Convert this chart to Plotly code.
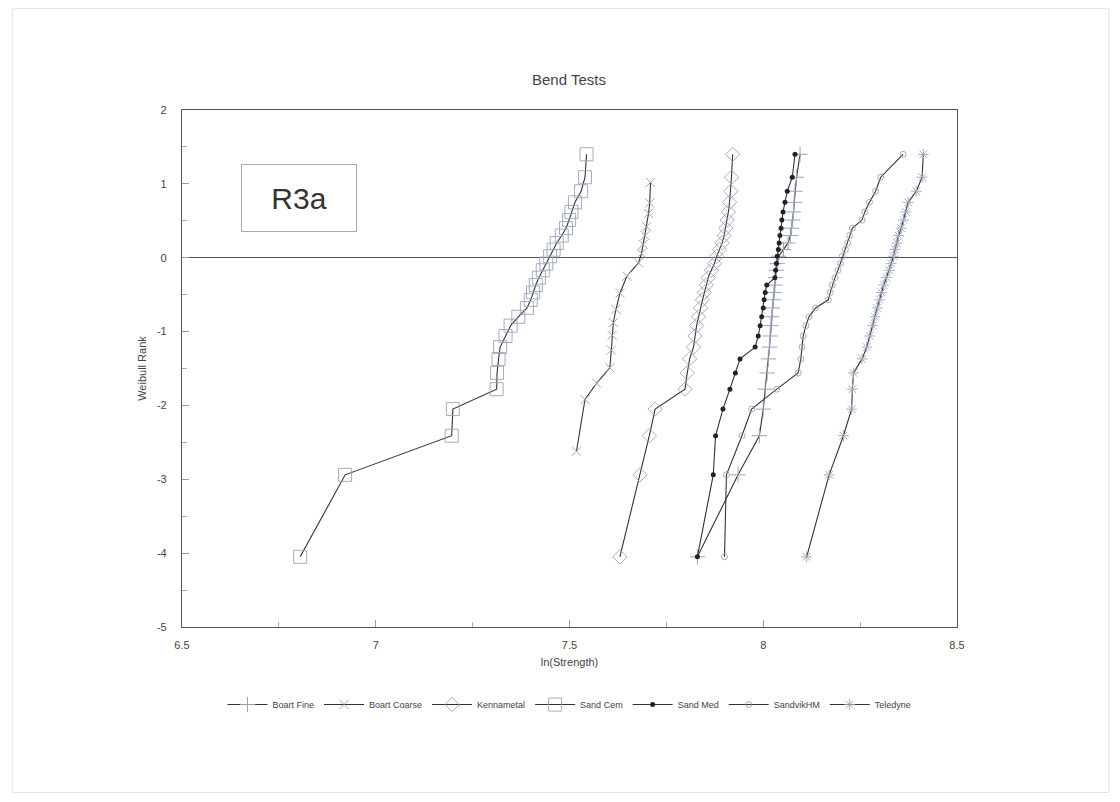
import plotly.graph_objects as go

# ---- data ----
# Weibull rank positions shared by the 29-specimen series
weibull_rank = [-4.05, -2.94, -2.41, -2.05, -1.78, -1.56, -1.37, -1.21, -1.06, -0.92,
                -0.80, -0.68, -0.57, -0.47, -0.37, -0.27, -0.17, -0.08, 0.02, 0.11,
                0.20, 0.30, 0.40, 0.51, 0.62, 0.75, 0.90, 1.09, 1.40]

boart_fine_x = [7.830, 7.935, 7.990, 8.000, 8.005, 8.010, 8.013, 8.016, 8.018, 8.020,
                8.022, 8.024, 8.026, 8.028, 8.030, 8.032, 8.034, 8.036, 8.040, 8.052,
                8.064, 8.070, 8.073, 8.076, 8.078, 8.080, 8.082, 8.086, 8.095]

boart_coarse_x = [7.518, 7.540, 7.570, 7.604, 7.608, 7.610, 7.613, 7.620, 7.630, 7.648,
                  7.678, 7.686, 7.690, 7.695, 7.699, 7.704, 7.707, 7.709]
boart_coarse_y = [-2.62, -1.92, -1.70, -1.49, -1.25, -1.05, -0.88, -0.70, -0.48, -0.25,
                  -0.07, 0.06, 0.18, 0.30, 0.42, 0.60, 0.74, 1.02]

kennametal_x = [7.630, 7.682, 7.706, 7.721, 7.798, 7.804, 7.810, 7.820, 7.824, 7.828,
                7.833, 7.838, 7.843, 7.848, 7.853, 7.858, 7.866, 7.874, 7.880, 7.887,
                7.894, 7.899, 7.903, 7.907, 7.910, 7.913, 7.916, 7.918, 7.921]

sand_cem_x = [6.805, 6.921, 7.196, 7.199, 7.312, 7.313, 7.317, 7.321, 7.335, 7.348,
              7.368, 7.390, 7.400, 7.406, 7.413, 7.421, 7.431, 7.440, 7.450, 7.459,
              7.467, 7.480, 7.491, 7.499, 7.505, 7.514, 7.530, 7.540, 7.544]

sand_med_x = [7.830, 7.871, 7.877, 7.896, 7.914, 7.928, 7.940, 7.979, 7.987, 7.992,
              7.996, 8.000, 8.002, 8.005, 8.009, 8.030, 8.032, 8.034, 8.036, 8.039,
              8.041, 8.043, 8.046, 8.048, 8.051, 8.056, 8.062, 8.075, 8.082]

sandvik_x = [7.900, 7.905, 7.945, 7.970, 8.035, 8.090, 8.097, 8.100, 8.103, 8.110,
             8.118, 8.135, 8.168, 8.173, 8.178, 8.185, 8.193, 8.199, 8.204, 8.212,
             8.218, 8.223, 8.230, 8.255, 8.262, 8.274, 8.290, 8.303, 8.361]

teledyne_x = [8.112, 8.170, 8.207, 8.228, 8.230, 8.233, 8.255, 8.267, 8.275, 8.283,
              8.288, 8.294, 8.300, 8.305, 8.311, 8.318, 8.325, 8.330, 8.336, 8.340,
              8.345, 8.349, 8.356, 8.362, 8.368, 8.374, 8.395, 8.410, 8.413]

series_names = ["Boart Fine", "Boart Coarse", "Kennametal", "Sand Cem",
                "Sand Med", "SandvikHM", "Teledyne"]

x_tick_vals = [6.5, 7, 7.5, 8, 8.5]
x_tick_text = ["6.5", "7", "7.5", "8", "8.5"]
y_tick_vals = [-5, -4, -3, -2, -1, 0, 1, 2]
y_tick_text = ["-5", "-4", "-3", "-2", "-1", "0", "1", "2"]

# ---- styling ----
LINE = "#333333"
MK = "#9aa3b8"
FONT = "Liberation Sans"

styles = {
    "Boart Fine":   dict(symbol="cross-thin", size=11, color=MK, lw=1.0),
    "Boart Coarse": dict(symbol="x-thin", size=9, color=MK, lw=1.0),
    "Kennametal":   dict(symbol="diamond-open", size=11, color=MK, lw=0.9),
    "Sand Cem":     dict(symbol="square-open", size=13, color=MK, lw=0.9),
    "Sand Med":     dict(symbol="circle", size=5, color="#222222", lw=0),
    "SandvikHM":    dict(symbol="circle-open", size=6, color=MK, lw=0.9),
    "Teledyne":     dict(symbol="asterisk-open", size=9, color=MK, lw=0.9),
}

data = {
    "Boart Fine": (boart_fine_x, weibull_rank),
    "Boart Coarse": (boart_coarse_x, boart_coarse_y),
    "Kennametal": (kennametal_x, weibull_rank),
    "Sand Cem": (sand_cem_x, weibull_rank),
    "Sand Med": (sand_med_x, weibull_rank),
    "SandvikHM": (sandvik_x, weibull_rank),
    "Teledyne": (teledyne_x, weibull_rank),
}

fig = go.Figure()
for name in series_names:
    xs, ys = data[name]
    st = styles[name]
    marker = dict(symbol=st["symbol"], size=st["size"], color=st["color"])
    if st["lw"]:
        marker["line"] = dict(color=st["color"], width=st["lw"])
    fig.add_trace(go.Scatter(
        x=xs, y=ys, name=name, mode="lines+markers",
        line=dict(color=LINE, width=1.1),
        marker=marker,
    ))

axis_common = dict(
    showgrid=False, showline=True, linecolor="#555555", linewidth=1.2, mirror=True,
    ticks="inside", ticklen=7, tickcolor="#999999", tickwidth=1,
    tickfont=dict(family=FONT, size=11, color="#444444"),
)

fig.update_xaxes(
    range=[6.5, 8.5], tickvals=x_tick_vals, ticktext=x_tick_text,
    minor=dict(dtick=0.25, ticks="inside", ticklen=5, tickcolor="#aaaaaa"),
    title=dict(text="ln(Strength)", font=dict(family=FONT, size=11, color="#444444"), standoff=8),
    ticklabelstandoff=8,
    zeroline=False, **axis_common,
)
fig.update_yaxes(
    range=[-5, 2], tickvals=y_tick_vals, ticktext=y_tick_text,
    minor=dict(dtick=0.5, ticks="inside", ticklen=5, tickcolor="#aaaaaa"),
    title=dict(text="Weibull Rank", font=dict(family=FONT, size=11, color="#444444"), standoff=8),
    ticklabelstandoff=12,
    zeroline=True, zerolinecolor="#555555", zerolinewidth=1.3, **axis_common,
)

fig.add_annotation(
    text="R3a", xref="paper", yref="paper", x=0.151, y=0.829,
    xanchor="center", yanchor="middle",
    showarrow=False, font=dict(family=FONT, size=30, color="#333333"),
    bordercolor="#aaaaaa", borderwidth=1, width=112, height=64, bgcolor="white",
)

# faint scan border around the page
fig.add_shape(type="rect", xref="paper", yref="paper",
              x0=-0.219, x1=1.196, y0=-0.32, y1=1.196,
              line=dict(color="#e4e4e4", width=1))

fig.update_layout(
    width=1120, height=802,
    margin=dict(l=182, r=163, t=110, b=175),
    paper_bgcolor="white", plot_bgcolor="white",
    title=dict(text="Bend Tests", x=0.508, xanchor="center", y=0.9, yanchor="middle",
               yref="container", font=dict(family=FONT, size=15, color="#444444")),
    legend=dict(orientation="h", x=0.5, xanchor="center", y=-0.15, yanchor="middle",
                font=dict(family=FONT, size=9, color="#444444"), itemwidth=40,
                bgcolor="rgba(0,0,0,0)"),
    showlegend=True,
)

fig.write_html("out.html")
